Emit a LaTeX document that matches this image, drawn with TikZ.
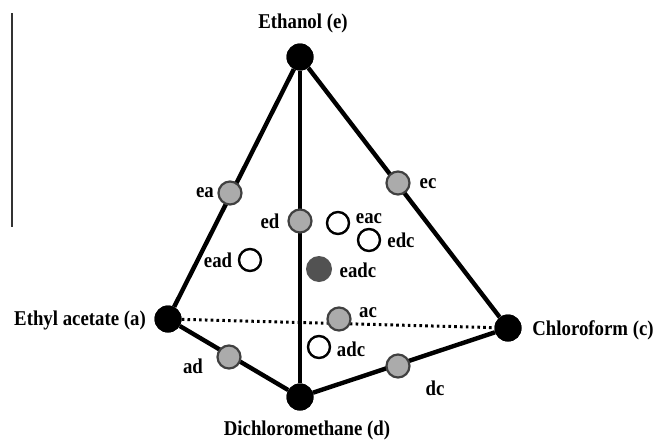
\documentclass[tikz,border=0pt]{standalone}
\usepackage{graphicx}
\usepackage{fontspec}
\setmainfont{Liberation Serif}
\newcommand\tallt[1]{\scalebox{1}[1.12]{#1}}
\begin{document}
\begin{tikzpicture}[x=1pt,y=-1pt,
  vtx/.style={circle,fill=black,minimum size=27pt,inner sep=0pt},
  bin/.style={circle,fill=black!33,draw=black!75,line width=2.2pt,minimum size=23pt,inner sep=0pt},
  ter/.style={circle,fill=white,draw=black,line width=2.4pt,minimum size=22pt,inner sep=0pt},
  quat/.style={circle,fill=black!68,minimum size=26pt,inner sep=0pt},
  edge/.style={line width=4.4pt},
  lab/.style={font=\fontsize{18.8}{20}\selectfont\bfseries,inner sep=0pt}]
\useasboundingbox (0,0) rectangle (661,439);
\draw[line width=1.5pt,black!80] (12,13) -- (12,227);
% vertices
\node[vtx] (e) at (300,57) {};
\node[vtx] (a) at (168,319) {};
\node[vtx] (c) at (508,328) {};
\node[vtx] (d) at (300,397) {};
% edges
\draw[line width=3pt,dash pattern=on 2.6pt off 3.2pt] (a) -- (c);
\draw[edge] (e) -- (a);
\draw[edge] (e) -- (c);
\draw[edge] (a) -- (d);
\draw[edge] (d) -- (c);
\draw[edge] (e) -- (d);
\node[vtx] at (e) {};
\node[vtx] at (a) {};
\node[vtx] at (c) {};
\node[vtx] at (d) {};
% binary points
\node[bin] (ea) at (230,193) {};
\node[bin] (ec) at (398,183) {};
\node[bin] (ed) at (300,221) {};
\node[bin] (ac) at (339,319) {};
\node[bin] (ad) at (229,357) {};
\node[bin] (dc) at (398,366) {};
% ternary points
\node[ter] (eac) at (338,223) {};
\node[ter] (edc) at (369,240) {};
\node[ter] (ead) at (250,260) {};
\node[ter] (adc) at (319,347) {};
% quaternary
\node[quat] (eadc) at (319,269) {};
% labels
\node[lab] (le) at (303,23) {\tallt{Ethanol (e)}};
\node[lab] (la) at (80,320) {\tallt{Ethyl acetate (a)}};
\node[lab] (lc) at (593,330) {\tallt{Chloroform (c)}};
\node[lab] (ld) at (307,430) {\tallt{Dichloromethane (d)}};
\node[lab] (lea) at (205,193) {\tallt{ea}};
\node[lab] (lec) at (428,184) {\tallt{ec}};
\node[lab] (led) at (270,221) {\tallt{ed}};
\node[lab] (leac) at (369,219) {\tallt{eac}};
\node[lab] (ledc) at (401,240) {\tallt{edc}};
\node[lab] (lead) at (218,260) {\tallt{ead}};
\node[lab] (leadc) at (358,270) {\tallt{eadc}};
\node[lab] (lac) at (368,313) {\tallt{ac}};
\node[lab] (ladc) at (351,349) {\tallt{adc}};
\node[lab] (lad) at (193,366) {\tallt{ad}};
\node[lab] (ldc) at (435,388) {\tallt{dc}};
\end{tikzpicture}
\end{document}
